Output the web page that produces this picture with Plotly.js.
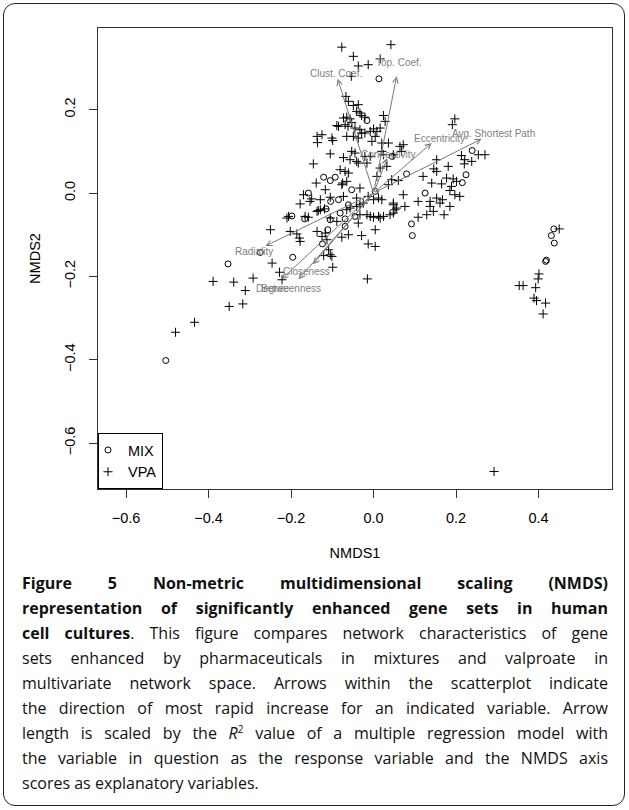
<!DOCTYPE html>
<html>
<head>
<meta charset="utf-8">
<script src="https://cdn.plot.ly/plotly-3.0.1.min.js"></script>
<style>
  html, body { margin: 0; padding: 0; background: #fff; }
  #wrap { position: relative; width: 629px; height: 810px; overflow: hidden; }
  #chart { position: absolute; left: 0; top: 0; width: 629px; height: 565px; }
  #frame { position: absolute; left: 3px; top: 3px; width: 620px; height: 801px;
           border: 1.5px solid #222; border-radius: 12px; pointer-events: none; }
  #caption { position: absolute; left: 22px; top: 571px; width: 586px;
             font-family: "Open Sans", "Noto Sans", sans-serif; font-size: 16px; color: #111; }
  #caption .ln { height: 25px; line-height: 25px; white-space: nowrap; text-align: justify; text-align-last: justify; }
  #caption .ln.last { text-align-last: left; }
  #caption b { font-weight: 700; }
</style>
</head>
<body>
<div id="wrap">
  <div id="chart"></div>
  <div id="caption">
    <div class="ln"><b>Figure 5 Non-metric multidimensional scaling (NMDS)</b></div>
    <div class="ln"><b>representation of significantly enhanced gene sets in human</b></div>
    <div class="ln"><b>cell cultures</b>. This figure compares network characteristics of gene</div>
    <div class="ln">sets enhanced by pharmaceuticals in mixtures and valproate in</div>
    <div class="ln">multivariate network space. Arrows within the scatterplot indicate</div>
    <div class="ln">the direction of most rapid increase for an indicated variable. Arrow</div>
    <div class="ln">length is scaled by the <i>R</i><sup style="font-size:10px;line-height:0">2</sup> value of a multiple regression model with</div>
    <div class="ln">the variable in question as the response variable and the NMDS axis</div>
    <div class="ln last">scores as explanatory variables.</div>
  </div>
  <div id="frame"></div>
</div>
<script>
// ---- data (NMDS scores) ----
const mixX = [0.013,-0.016,-0.121,-0.105,-0.093,-0.158,-0.104,-0.085,-0.115,-0.198,-0.167,0.045,0.080,0.125,-0.053,0.004,-0.081,-0.045,-0.069,0.239,0.224,0.215,-0.061,-0.111,-0.124,-0.196,0.092,0.094,-0.105,-0.069,-0.2746,-0.3527,-0.5037,0.437,0.431,0.438,0.417,0.419];
const mixY = [0.274,0.174,0.038,0.030,0.038,0.000,-0.020,-0.016,-0.038,-0.055,-0.062,0.088,0.046,0.000,0.008,0.004,-0.048,-0.056,-0.062,0.102,0.044,0.025,-0.028,-0.088,-0.122,-0.154,-0.074,-0.102,-0.064,-0.080,-0.1425,-0.170,-0.4017,-0.086,-0.102,-0.120,-0.164,-0.161];

const vpaX = [-0.077,0.042,-0.049,0.016,-0.037,-0.013,-0.054,-0.067,-0.061,-0.049,-0.037,-0.041,-0.033,-0.029,-0.073,-0.065,-0.057,-0.053,-0.085,-0.062,-0.045,0.024,0.028,0.016,0.008,-0.137,-0.125,-0.101,-0.065,-0.033,-0.021,-0.008,-0.136,-0.099,-0.105,-0.073,-0.146,-0.069,-0.061,-0.139,-0.117,-0.075,-0.170,-0.150,-0.129,-0.105,-0.073,-0.178,-0.134,-0.119,-0.206,-0.166,-0.158,-0.021,-0.029,0.000,0.004,-0.004,0.020,0.036,0.020,0.024,-0.049,-0.037,0.072,0.064,0.068,0.048,-0.045,-0.057,-0.041,-0.037,-0.016,-0.081,0.016,0.032,0.008,0.060,0.044,0.036,0.153,0.181,0.153,0.146,0.197,0.191,0.120,0.141,0.165,0.177,0.193,0.189,0.185,0.201,0.108,0.137,0.153,0.161,0.137,0.185,0.072,0.048,0.056,-0.033,-0.065,-0.077,-0.041,-0.013,0.000,0.012,0.020,0.040,0.048,0.052,0.076,-0.008,0.000,0.012,0.016,0.024,0.213,0.221,0.220,0.238,0.254,0.270,0.197,0.209,0.167,0.171,-0.154,-0.033,-0.025,-0.210,-0.137,-0.129,-0.105,-0.089,-0.065,-0.057,-0.041,-0.033,-0.016,-0.037,-0.250,-0.202,-0.186,-0.178,-0.180,-0.137,-0.117,-0.125,-0.077,-0.061,-0.029,0.004,-0.013,0.004,-0.109,-0.105,-0.121,-0.101,-0.099,-0.246,-0.228,-0.222,-0.015,0.108,0.129,0.145,0.048,-0.113,-0.069,-0.089,-0.053,-0.021,-0.008,-0.389,-0.339,-0.292,-0.311,-0.350,-0.317,-0.434,-0.480,0.450,0.401,0.399,0.353,0.3625,0.393,0.389,0.395,0.417,0.411,0.292];
const vpaY = [0.350,0.356,0.328,0.322,0.305,0.308,0.280,0.232,0.220,0.210,0.212,0.196,0.192,0.186,0.180,0.182,0.178,0.169,0.160,0.160,0.156,0.186,0.172,0.156,0.148,0.136,0.140,0.132,0.136,0.152,0.144,0.148,0.121,0.126,0.094,0.085,0.070,0.052,0.048,0.024,0.008,0.024,-0.004,-0.014,-0.016,-0.010,-0.008,-0.026,-0.042,-0.038,-0.056,-0.056,-0.058,0.182,0.144,0.154,0.136,0.124,0.120,0.120,0.100,0.092,0.136,0.132,0.116,0.112,0.100,0.092,0.096,0.080,0.076,0.072,0.072,0.056,0.060,0.064,0.040,0.030,0.032,0.020,0.080,0.064,0.052,0.058,0.178,0.164,0.040,0.024,0.022,0.036,0.034,0.016,0.006,0.028,-0.020,-0.020,-0.012,-0.024,-0.032,-0.032,-0.004,-0.024,-0.036,0.012,0.028,0.020,-0.012,-0.008,-0.016,-0.012,-0.016,-0.052,-0.048,-0.040,-0.032,-0.056,-0.058,-0.056,-0.060,-0.056,0.090,0.080,0.070,0.076,0.092,0.092,-0.004,-0.008,-0.016,-0.052,-0.020,-0.028,-0.024,-0.060,-0.044,-0.040,-0.060,-0.068,-0.040,-0.036,-0.032,-0.052,-0.052,-0.072,-0.088,-0.092,-0.098,-0.116,-0.108,-0.092,-0.096,-0.104,-0.106,-0.100,-0.102,-0.088,-0.122,-0.128,-0.136,-0.148,-0.150,-0.152,-0.178,-0.168,-0.190,-0.208,-0.206,-0.058,-0.052,-0.044,-0.028,-0.112,0.164,0.162,0.100,0.088,0.088,-0.212,-0.2136,-0.204,-0.234,-0.272,-0.266,-0.310,-0.334,-0.086,-0.194,-0.206,-0.222,-0.222,-0.227,-0.252,-0.258,-0.264,-0.290,-0.668];

// fitted variable vectors (arrow tips) and label positions
const varNames = ["Clust. Coef.","Top. Coef.","Eccentricity","Avg. Shortest Path","Connectivity","Radiality","Closeness","Betweenness","Degree"];
const tipX = [-0.087,0.056,0.141,0.262,0.033,-0.262,-0.147,-0.182,-0.223];
const tipY = [0.274,0.280,0.120,0.130,0.084,-0.127,-0.171,-0.207,-0.207];
const labX = [-0.090,0.062,0.159,0.291,0.036,-0.291,-0.162,-0.200,-0.246];
const labY = [0.288,0.313,0.132,0.144,0.092,-0.140,-0.188,-0.228,-0.228];

const xTicks = [-0.6,-0.4,-0.2,0.0,0.2,0.4];
const yTicks = [-0.6,-0.4,-0.2,0.0,0.2];

const traces = [
  { type:'scatter', mode:'markers', name:'MIX', x: mixX, y: mixY,
    marker:{ symbol:'circle-open', size:6, color:'#000', line:{ width:1, color:'#000' } } },
  { type:'scatter', mode:'markers', name:'VPA', x: vpaX, y: vpaY,
    marker:{ symbol:'cross-thin-open', size:6.5, color:'#000', line:{ width:1, color:'#000' } } }
];

const annotations = [];
for (let i = 0; i < varNames.length; i++) {
  annotations.push({ x: tipX[i], y: tipY[i], ax: 0, ay: 0, xref:'x', yref:'y', axref:'x', ayref:'y',
    text:'', showarrow:true, arrowhead:5, arrowsize:1.1, arrowwidth:1, arrowcolor:'#7a7a7a', standoff:0, startstandoff:0 });
}
for (let i = 0; i < varNames.length; i++) {
  annotations.push({ x: labX[i], y: labY[i], xref:'x', yref:'y', text: varNames[i], showarrow:false,
    font:{ family:'Liberation Sans, Arial, sans-serif', size:10, color:'#808080' } });
}

const axisFont = { family:'Liberation Sans, Arial, sans-serif', size:14.5, color:'#000' };
const layout = {
  width: 629, height: 565,
  margin: { l: 98, r: 17, t: 28, b: 76 },
  paper_bgcolor: 'rgba(0,0,0,0)', plot_bgcolor: '#fff',
  showlegend: true,
  legend: { x: 0, y: 0, xanchor:'left', yanchor:'bottom', bordercolor:'#000', borderwidth:1,
            bgcolor:'#fff', font: axisFont, itemwidth:30, tracegroupgap:0, indentation:-11 },
  xaxis: { range:[-0.668, 0.578], tickvals: xTicks, tickformat:'.1f', ticks:'outside', ticklen:8,
           tickcolor:'#333', showgrid:false, zeroline:false, showline:true, mirror:true, linecolor:'#333', linewidth:1,
           tickfont: axisFont, ticklabelstandoff: 8,
           title:{ text:'NMDS1', font: axisFont, standoff: 22 } },
  yaxis: { range:[-0.710, 0.396], tickvals: yTicks, tickformat:'.1f', ticks:'outside', ticklen:8, tickangle:-90,
           tickcolor:'#333', showgrid:false, zeroline:false, showline:true, mirror:true, linecolor:'#333', linewidth:1,
           tickfont: axisFont, ticklabelstandoff: 8,
           title:{ text:'NMDS2', font: axisFont, standoff: 18 } },
  annotations: annotations
};

Plotly.newPlot('chart', traces, layout, { staticPlot: true, displayModeBar: false });
</script>
</body>
</html>
